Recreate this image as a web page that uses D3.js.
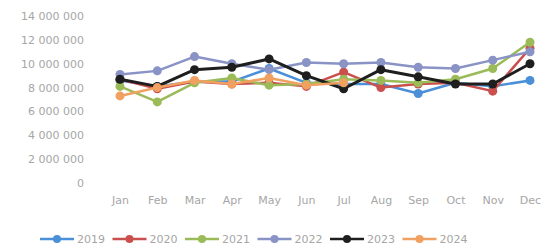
<!DOCTYPE html>
<html>
<head>
<meta charset="utf-8">
<script src="https://cdn.jsdelivr.net/npm/d3@7"></script>
<style>
  body { margin: 0; background: #fff; }
  svg { display: block; }
  text { font-family: "DejaVu Sans", sans-serif; fill: #a6a6a6; }
</style>
</head>
<body>
<div id="chart"></div>
<script>
// monthly values, millions
const months = ["Jan", "Feb", "Mar", "Apr", "May", "Jun", "Jul", "Aug", "Sep", "Oct", "Nov", "Dec"];
const years = ["2019", "2020", "2021", "2022", "2023", "2024"];
const colors = ["#4a8fd8", "#c9504d", "#9bbb59", "#8a93c6", "#1e1e1e", "#f0a060"];
const v2019 = [8.6, 8.1, 8.5, 8.5, 9.6, 8.4, 8.3, 8.3, 7.5, 8.4, 8.1, 8.6];
const v2020 = [8.7, 7.9, 8.5, 8.3, 8.4, 8.1, 9.3, 8.0, 8.3, 8.4, 7.7, 11.3];
const v2021 = [8.1, 6.8, 8.4, 8.8, 8.2, 8.3, 8.7, 8.6, 8.4, 8.7, 9.6, 11.8];
const v2022 = [9.1, 9.4, 10.6, 10.0, 9.5, 10.1, 10.0, 10.1, 9.7, 9.6, 10.3, 11.0];
const v2023 = [8.7, 8.1, 9.5, 9.7, 10.4, 9.0, 7.9, 9.5, 8.9, 8.3, 8.3, 10.0];
const v2024 = [7.3, 8.0, 8.6, 8.3, 8.8, 8.2, 8.4];
const yTicks = [0, 2, 4, 6, 8, 10, 12, 14];

const seriesValues = [v2019, v2020, v2021, v2022, v2023, v2024];

const width = 541, height = 252;
const svg = d3.select("#chart").append("svg")
  .attr("width", width)
  .attr("height", height);

const x = d3.scalePoint().domain(months).range([120, 530]);
const y = d3.scaleLinear().domain([0, 14]).range([183, 16]);

const fmt = (v) => v === 0 ? "0" : d3.format(",")(v * 1e6).replace(/,/g, " ");

const yAxis = svg.append("g")
  .attr("transform", "translate(84,0)")
  .call(d3.axisLeft(y).tickValues(yTicks).tickSize(0).tickPadding(0).tickFormat(fmt));
yAxis.select(".domain").remove();
yAxis.selectAll("text").attr("font-size", 11).style("fill", "#a6a6a6").attr("font-family", "DejaVu Sans");

const xAxis = svg.append("g")
  .attr("transform", "translate(0,193)")
  .call(d3.axisBottom(x).tickSize(0).tickPadding(3));
xAxis.select(".domain").remove();
xAxis.selectAll("text").attr("font-size", 11).style("fill", "#a6a6a6").attr("font-family", "DejaVu Sans");

const line = d3.line()
  .x((d, i) => x(months[i]))
  .y((d) => y(d));

seriesValues.forEach((vals, s) => {
  const g = svg.append("g");
  g.append("path")
    .datum(vals)
    .attr("d", line)
    .attr("fill", "none")
    .attr("stroke", colors[s])
    .attr("stroke-width", s === 4 ? 3 : 2.5)
    .attr("stroke-linejoin", "round");
  g.selectAll("circle")
    .data(vals)
    .enter().append("circle")
    .attr("cx", (d, i) => x(months[i]))
    .attr("cy", (d) => y(d))
    .attr("r", 4.5)
    .attr("fill", colors[s]);
});

// legend
const legend = svg.append("g").attr("transform", "translate(40,239)");
years.forEach((yr, i) => {
  const g = legend.append("g").attr("transform", "translate(" + (i * 72.5) + ",0)");
  g.append("line")
    .attr("x1", 0).attr("x2", 34)
    .attr("stroke", colors[i]).attr("stroke-width", 2.5);
  g.append("circle").attr("cx", 17).attr("r", 4).attr("fill", colors[i]);
  g.append("text")
    .attr("x", 37).attr("dy", "0.35em")
    .attr("font-size", 11)
    .text(yr);
});
</script>
</body>
</html>
